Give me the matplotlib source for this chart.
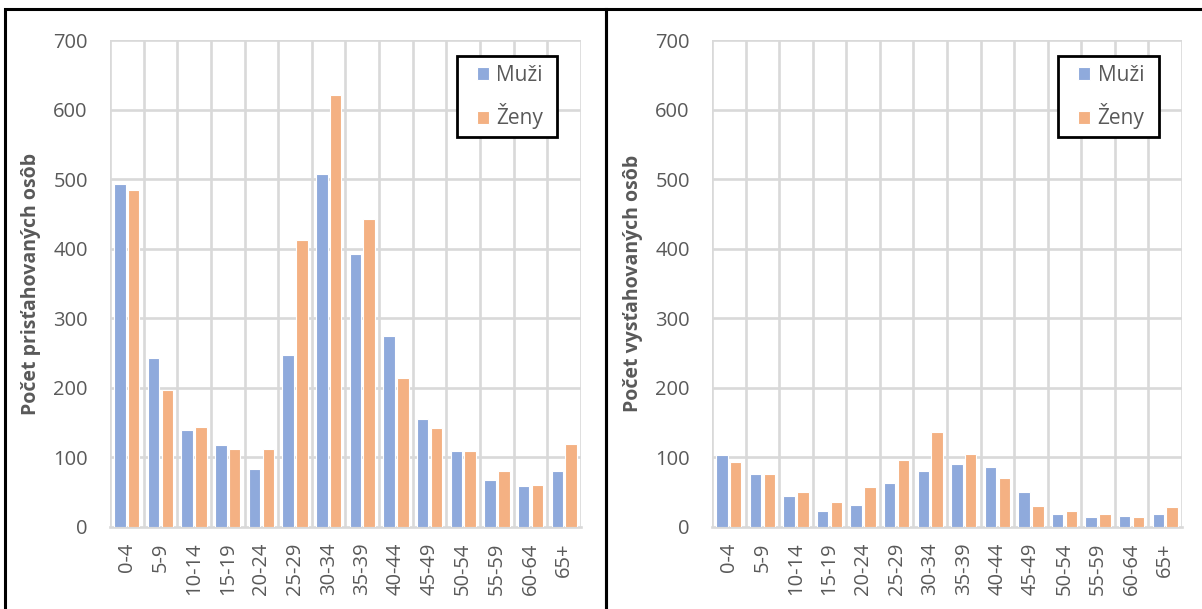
import matplotlib
matplotlib.use("Agg")
import matplotlib.pyplot as plt
import numpy as np
from matplotlib.patches import Rectangle

ages = ["0-4", "5-9", "10-14", "15-19", "20-24", "25-29", "30-34", "35-39",
        "40-44", "45-49", "50-54", "55-59", "60-64", "65+"]
immig_men = [493, 243, 140, 118, 83, 247, 508, 392, 275, 155, 109, 67, 59, 81]
immig_women = [485, 197, 144, 112, 112, 412, 621, 442, 214, 142, 109, 81, 61, 120]
emig_men = [103, 76, 45, 23, 32, 63, 81, 90, 86, 50, 19, 14, 16, 18]
emig_women = [94, 76, 51, 36, 57, 97, 137, 105, 71, 30, 23, 18, 14, 29]
ylabels = ["Počet prisťahovaných osôb", "Počet vysťahovaných osôb"]

C_MEN, C_WOMEN = "#8FAADC", "#F4B183"
GRID = "#D9D9D9"
TXT = "#595959"

plt.rcParams["font.family"] = ["Open Sans", "DejaVu Sans"]

fig = plt.figure(figsize=(12.02, 6.09), dpi=100)

# black frames around the two panels
for x0, w in ((5 / 1202, 601 / 1202), (606 / 1202, 600 / 1202)):
    fig.patches.append(Rectangle((x0, -0.05), w, 1.05 - 9 / 609, fill=False,
                                 ec="black", lw=2.2,
                                 transform=fig.transFigure, zorder=10))

axes_pos = [(110 / 1202, 82 / 609, 471 / 1202, 487 / 609),
            (712 / 1202, 82 / 609, 470 / 1202, 487 / 609)]
data = [(immig_men, immig_women), (emig_men, emig_women)]

x = np.arange(len(ages))
bw = 0.34
for pos, (men, women), yl in zip(axes_pos, data, ylabels):
    ax = fig.add_axes(pos)
    ax.bar(x - 0.205, men, bw, color=C_MEN, ec="white", lw=0.8,
           label="Muži", zorder=3)
    ax.bar(x + 0.205, women, bw, color=C_WOMEN, ec="white", lw=0.8,
           label="Ženy", zorder=3)
    ax.set_xlim(-0.5, len(ages) - 0.5)
    ax.set_ylim(0, 700)
    ax.set_yticks(range(0, 701, 100))
    ax.set_xticks(x)
    ax.set_xticklabels(ages, rotation=90, fontsize=14.5, color=TXT)
    ax.tick_params(axis="y", labelsize=14.5, labelcolor=TXT, length=0, pad=16)
    ax.tick_params(axis="x", length=0, pad=11)
    for y in range(100, 701, 100):
        ax.axhline(y, color=GRID, lw=1.9, zorder=1)
    for xv in np.arange(-0.5, len(ages), 1.0):
        ax.axvline(xv, color=GRID, lw=1.9, zorder=1)
    for s in ("top", "right", "left"):
        ax.spines[s].set_visible(False)
    ax.spines["bottom"].set_color(GRID)
    ax.spines["bottom"].set_linewidth(1.9)
    ax.set_ylabel(yl, fontsize=14, fontweight="bold", color=TXT, labelpad=9)

    # Excel-style legend: white box with black border, entries set inside
    ax.add_patch(Rectangle((0.736, 0.80), 0.214, 0.167, transform=ax.transAxes,
                           fc="white", ec="black", lw=2.0, zorder=5,
                           clip_on=False))
    leg = ax.legend(loc="upper left", bbox_to_anchor=(0.765, 0.962),
                    fontsize=15, frameon=False,
                    handlelength=0.6, handleheight=0.6, handletextpad=0.35,
                    labelspacing=0.85, borderpad=0.3, borderaxespad=0)
    leg.set_zorder(6)
    for t in leg.get_texts():
        t.set_color(TXT)

fig.savefig("out.png", dpi=100)
